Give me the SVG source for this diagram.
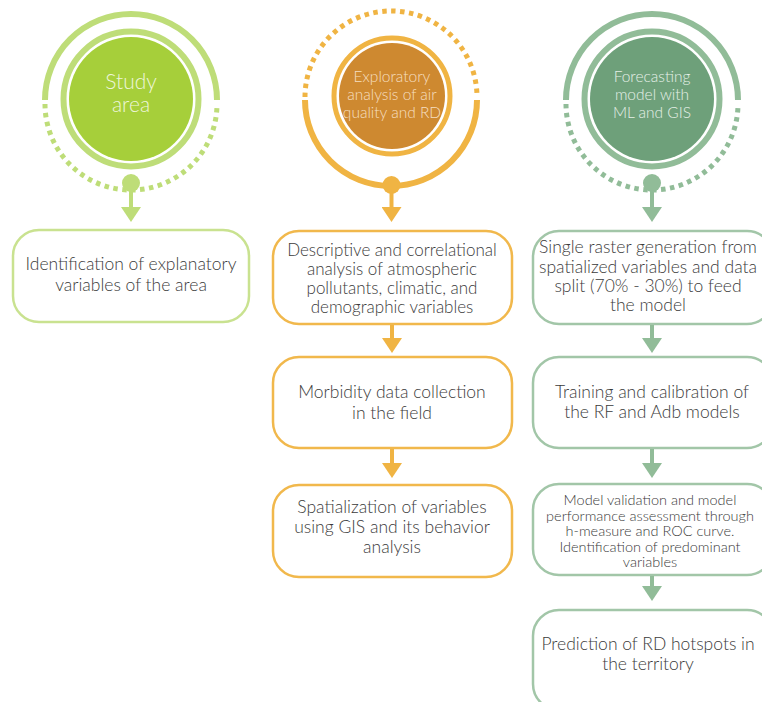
<svg xmlns="http://www.w3.org/2000/svg" width="762" height="702" viewBox="0 0 762 702">
<style>
  .t { font-family: Lato, "Liberation Sans", sans-serif; font-weight: 300; font-size: 17.5px; fill: #3b3b3b; text-anchor: middle; }
  .tm { font-size: 17px; }
  .tr { font-size: 17.5px; }
  .ts { font-size: 14.5px; }
  .ct { font-family: Lato, "Liberation Sans", sans-serif; font-weight: 300; text-anchor: middle; }
  .box { fill: #ffffff; stroke-width: 2.5; }
  .g1 { stroke: #c9e290; }
  .g2 { stroke: #f1b84c; }
  .g3 { stroke: #a2c6a8; }
  .stem { stroke-width: 4; fill: none; }
</style>
<defs>
  <marker id="a1" viewBox="0 0 15 20" refX="0" refY="10" markerWidth="15" markerHeight="20" markerUnits="userSpaceOnUse" orient="auto"><path d="M0,0 L15,10 L0,20 z" fill="#bedd78"/></marker>
  <marker id="a2" viewBox="0 0 15 20" refX="0" refY="10" markerWidth="15" markerHeight="20" markerUnits="userSpaceOnUse" orient="auto"><path d="M0,0 L15,10 L0,20 z" fill="#f0b443"/></marker>
  <marker id="a3" viewBox="0 0 15 20" refX="0" refY="10" markerWidth="15" markerHeight="20" markerUnits="userSpaceOnUse" orient="auto"><path d="M0,0 L15,10 L0,20 z" fill="#91bc98"/></marker>
</defs>

<g id="study-area">
  <path d="M45,100 A86,86 0 0 1 217,100" fill="none" stroke="#bedd78" stroke-width="6"/>
  <path d="M45,104 A86,86 0 0 0 217,104" fill="none" stroke="#bedd78" stroke-width="5" stroke-dasharray="4.5 4.5"/>
  <circle cx="131" cy="99" r="67.5" fill="none" stroke="#bedd78" stroke-width="6"/>
  <circle cx="131" cy="99" r="62" fill="#a6cf3a"/>
  <circle cx="131" cy="183" r="9" fill="#bedd78"/>
  <text class="ct" x="131" y="89" font-size="21" fill="#eef6da">Study</text>
  <text class="ct" x="131" y="112" font-size="21" fill="#eef6da">area</text>
</g>

<g id="exploratory">
  <path d="M305,97 A86,86 0 0 1 477,97" fill="none" stroke="#f0b443" stroke-width="5" stroke-dasharray="4.5 4.5"/>
  <path d="M305,100 A86,86 0 0 0 477,100" fill="none" stroke="#f0b443" stroke-width="6"/>
  <circle cx="392" cy="96" r="58" fill="none" stroke="#f0b443" stroke-width="5"/>
  <circle cx="392" cy="96" r="53" fill="#ce8930"/>
  <circle cx="391.5" cy="185" r="9" fill="#f0b443"/>
  <text class="ct" x="392" y="82" font-size="15.5" fill="#f6dfc0">Exploratory</text>
  <text class="ct" x="392" y="100" font-size="15.5" fill="#f6dfc0">analysis of air</text>
  <text class="ct" x="392" y="118" font-size="15.5" fill="#f6dfc0">quality and RD</text>
</g>

<g id="forecasting">
  <path d="M566,100 A86,86 0 0 1 738,100" fill="none" stroke="#91bc98" stroke-width="6"/>
  <path d="M566,104 A86,86 0 0 0 738,104" fill="none" stroke="#91bc98" stroke-width="5" stroke-dasharray="4.5 4.5"/>
  <circle cx="652" cy="99" r="67.5" fill="none" stroke="#91bc98" stroke-width="6"/>
  <circle cx="652" cy="99" r="62" fill="#6ea07a"/>
  <circle cx="652" cy="183" r="9" fill="#91bc98"/>
  <text class="ct" x="652" y="82" font-size="15.5" fill="#e6f0e8">Forecasting</text>
  <text class="ct" x="652" y="100" font-size="15.5" fill="#e6f0e8">model with</text>
  <text class="ct" x="652" y="118" font-size="15.5" fill="#e6f0e8">ML and GIS</text>
</g>

<g id="box-identification">
  <rect class="box g1" x="13" y="230" width="236" height="92" rx="26"/>
  <text class="t" x="131" y="270">Identification of explanatory</text>
  <text class="t" x="131" y="291">variables of the area</text>
</g>

<g id="box-descriptive">
  <rect class="box g2" x="273" y="231" width="239" height="93" rx="26"/>
  <text class="t tm" x="392" y="256">Descriptive and correlational</text>
  <text class="t tm" x="392" y="275">analysis of atmospheric</text>
  <text class="t tm" x="392" y="294">pollutants, climatic, and</text>
  <text class="t tm" x="392" y="313">demographic variables</text>
</g>

<g id="box-morbidity">
  <rect class="box g2" x="273" y="357" width="239" height="91" rx="26"/>
  <text class="t" x="392" y="398">Morbidity data collection</text>
  <text class="t" x="392" y="419">in the field</text>
</g>

<g id="box-spatialization">
  <rect class="box g2" x="273" y="485" width="239" height="92" rx="26"/>
  <text class="t" x="392" y="513">Spatialization of variables</text>
  <text class="t" x="392" y="533">using GIS and its behavior</text>
  <text class="t" x="392" y="553">analysis</text>
</g>

<g id="box-raster">
  <rect class="box g3" x="533" y="231" width="240" height="93" rx="26"/>
  <text class="t tr" x="648" y="253">Single raster generation from</text>
  <text class="t tr" x="648" y="272.5">spatialized variables and data</text>
  <text class="t tr" x="648" y="291.5">split (70% - 30%) to feed</text>
  <text class="t tr" x="648" y="310.5">the model</text>
</g>

<g id="box-training">
  <rect class="box g3" x="533" y="357" width="240" height="91" rx="26"/>
  <text class="t tr" x="652" y="398">Training and calibration of</text>
  <text class="t tr" x="652" y="418">the RF and Adb models</text>
</g>

<g id="box-validation">
  <rect class="box g3" x="533" y="484" width="240" height="91" rx="26"/>
  <text class="t ts" x="650" y="505">Model validation and model</text>
  <text class="t ts" x="650" y="520.5">performance assessment through</text>
  <text class="t ts" x="650" y="536">h-measure and ROC curve.</text>
  <text class="t ts" x="650" y="551.5">Identification of predominant</text>
  <text class="t ts" x="650" y="567">variables</text>
</g>

<g id="box-prediction">
  <rect class="box g3" x="533" y="610" width="240" height="100" rx="26"/>
  <text class="t tr" x="648" y="650">Prediction of RD hotspots in</text>
  <text class="t tr" x="648" y="670">the territory</text>
</g>

<g id="connectors">
  <line class="stem" x1="131" y1="190" x2="131" y2="207" stroke="#bedd78" marker-end="url(#a1)"/>
  <line class="stem" x1="391.5" y1="192" x2="391.5" y2="207" stroke="#f0b443" marker-end="url(#a2)"/>
  <line class="stem" x1="652" y1="190" x2="652" y2="207" stroke="#91bc98" marker-end="url(#a3)"/>
  <line class="stem" x1="392" y1="325" x2="392" y2="338" stroke="#f0b443" marker-end="url(#a2)"/>
  <line class="stem" x1="392" y1="449" x2="392" y2="463" stroke="#f0b443" marker-end="url(#a2)"/>
  <line class="stem" x1="652" y1="325" x2="652" y2="338" stroke="#91bc98" marker-end="url(#a3)"/>
  <line class="stem" x1="652" y1="449" x2="652" y2="463" stroke="#91bc98" marker-end="url(#a3)"/>
  <line class="stem" x1="652" y1="576" x2="652" y2="586" stroke="#91bc98" marker-end="url(#a3)"/>
</g>
</svg>
